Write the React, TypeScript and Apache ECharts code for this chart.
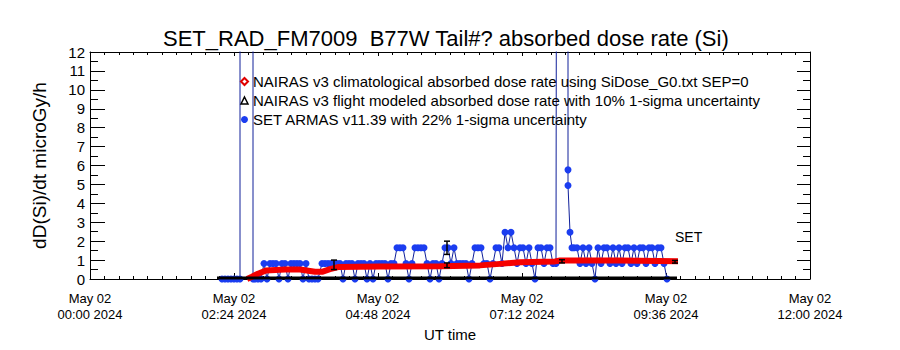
import React, { useEffect, useRef } from "react";
import * as echarts from "echarts";

const TITLE = "SET_RAD_FM7009  B77W Tail#? absorbed dose rate (Si)";
const Y_NAME = "dD(Si)/dt microGy/h";
const X_NAME = "UT time";
const RED_NAME = "NAIRAS v3 climatological absorbed dose rate using SiDose_G0.txt SEP=0";
const BLACK_NAME = "NAIRAS v3 flight modeled absorbed dose rate with 10% 1-sigma uncertainty";
const BLUE_NAME = "SET ARMAS v11.39 with 22% 1-sigma uncertainty";
const SET_LABEL = "SET";

// x axis in minutes after 2024-05-02 00:00 UT
const xTickMinutes = [0, 144, 288, 432, 576, 720];
const xTickLabels = [
  "May 02\n00:00 2024",
  "May 02\n02:24 2024",
  "May 02\n04:48 2024",
  "May 02\n07:12 2024",
  "May 02\n09:36 2024",
  "May 02\n12:00 2024",
];

// NAIRAS climatological (red) [minute, microGy/h]
const redData: [number, number][] = [
  [157, 0.0], [162, 0.12], [168, 0.28], [176, 0.45], [195, 0.5], [210, 0.5],
  [220, 0.42], [225, 0.38], [232, 0.38], [240, 0.52], [248, 0.63], [290, 0.66],
  [350, 0.68], [390, 0.72], [410, 0.8], [430, 0.88], [465, 0.93], [470, 0.98],
  [530, 0.98], [588, 0.94],
];

// NAIRAS flight modeled (black) [minute, microGy/h]
const blackData: [number, number][] = [
  [127, 0.05], [587, 0.05],
];

// error bars [minute, low, high]
const errorBars: [number, number, number][] = [
  [244, 0.5, 1.0],
  [357, 1.3, 2.0],
  [357, 0.6, 0.85],
  [472, 0.85, 1.02],
  [585, 0.84, 0.98],
];

// SET ARMAS (blue) [minute, microGy/h]; 40 = off scale
const blueData: [number, number][] = [
  [132, 0], [135, 0], [138, 0], [141, 0], [144, 0], [147, 0],
  [150, 0], [150, 40], [163, 40], [163, 0], [165, 0], [168, 0], [171, 0],
  [174, 0.82], [177, 0], [180, 0.82], [183, 0.82], [186, 0.82], [189, 0],
  [192, 0.82], [195, 0.82], [198, 0], [201, 0.82], [204, 0.82], [207, 0.82],
  [210, 0.82], [213, 0], [216, 0.82], [219, 0], [222, 0], [225, 0], [228, 0],
  [232, 0.82], [235, 0.82], [238, 0.82], [241, 0.82], [244, 0.82], [247, 0.82],
  [250, 0.82], [253, 0], [256, 0.82], [259, 0.82], [262, 0.82], [265, 0],
  [268, 0.82], [271, 0.82], [274, 0.82], [277, 0], [280, 0.82], [283, 0],
  [286, 0.82], [289, 0.82], [292, 0.82], [295, 0.82], [298, 0], [301, 0.82],
  [304, 0.82], [307, 1.65], [310, 1.65], [313, 1.65], [316, 0.82], [319, 0],
  [322, 0.82], [325, 1.65], [328, 1.65], [331, 1.65], [334, 1.65], [337, 0.82],
  [340, 0], [343, 0.82], [346, 0.82], [349, 0], [352, 0.82], [355, 1.65],
  [358, 1.65], [361, 0.82], [364, 1.65], [367, 0.82], [370, 0.82], [373, 0.82],
  [376, 0.82], [379, 0], [382, 0.82], [385, 1.65], [388, 1.65], [391, 1.65],
  [394, 0.82], [397, 0.82], [400, 0], [403, 0.82], [406, 1.65], [409, 1.65],
  [412, 0.82], [415, 2.47], [418, 1.65], [421, 2.47], [424, 1.65], [427, 0.82],
  [430, 1.65], [433, 1.65], [436, 0.82], [439, 1.65], [442, 0.82], [445, 0],
  [448, 1.65], [451, 1.65], [454, 0.82], [457, 1.65], [460, 1.65], [463, 0.82],
  [466, 0.82], [467, 40], [478, 40], [478, 5.77], [478, 4.94], [480, 2.47],
  [482, 1.65], [484, 1.65], [487, 1.65], [490, 0.82], [493, 1.65], [496, 0.82],
  [499, 1.65], [502, 0.82], [505, 0], [508, 1.65], [511, 0.82], [514, 1.65],
  [517, 1.65], [520, 0.82], [523, 1.65], [526, 0.82], [529, 1.65], [532, 0.82],
  [535, 1.65], [538, 1.65], [541, 0.82], [544, 1.65], [547, 0.82], [550, 1.65],
  [553, 1.65], [556, 0.82], [559, 1.65], [562, 1.65], [565, 0.82], [568, 1.65],
  [571, 1.65], [574, 0.82], [577, 0],
];

const FONT = "Liberation Sans";

export default function App() {
  const ref = useRef<HTMLDivElement>(null);
  useEffect(() => {
    if (!ref.current) return;
    const chart = echarts.init(ref.current, undefined, { renderer: "svg" });
    const axisLineStyle = { color: "#000", width: 1 };
    const xLabel = (v: number) => {
      const i = xTickMinutes.indexOf(Math.round(v));
      return i >= 0 ? xTickLabels[i] : "";
    };
    chart.setOption({
      animation: false,
      backgroundColor: "#fff",
      textStyle: { fontFamily: FONT },
      title: {
        text: TITLE,
        left: 158,
        top: 22,
        textStyle: { fontFamily: FONT, fontSize: 22, fontWeight: "normal", color: "#000" },
      },
      legend: {
        orient: "vertical",
        left: 235,
        top: 69,
        itemWidth: 7,
        itemHeight: 7,
        itemGap: 4,
        selectedMode: false,
        textStyle: { fontFamily: FONT, fontSize: 15, color: "#000" },
        data: [
          { name: RED_NAME, icon: "diamond", itemStyle: { color: "#fff", borderColor: "#e00000", borderWidth: 2 } },
          { name: BLACK_NAME, icon: "triangle", itemStyle: { color: "#fff", borderColor: "#000", borderWidth: 1.5 } },
          { name: BLUE_NAME, icon: "circle", itemStyle: { color: "#1b3df0" } },
        ],
      },
      grid: { left: 90, right: 90, top: 52, bottom: 71, containLabel: false },
      xAxis: [
        {
          type: "value",
          position: "bottom",
          min: 0,
          max: 720,
          interval: 144,
          axisLine: { show: true, onZero: false, lineStyle: axisLineStyle },
          axisTick: { show: true, inside: true, length: 6, lineStyle: axisLineStyle },
          minorTick: { show: true, splitNumber: 10, length: 3, lineStyle: axisLineStyle },
          splitLine: { show: false },
          axisLabel: { formatter: xLabel, fontFamily: FONT, fontSize: 13, lineHeight: 16, margin: 11, color: "#000" },
          name: X_NAME,
          nameLocation: "middle",
          nameGap: 47,
          nameTextStyle: { fontFamily: FONT, fontSize: 15, color: "#000" },
        },
        {
          type: "value",
          position: "top",
          min: 0,
          max: 720,
          interval: 144,
          axisLine: { show: true, onZero: false, lineStyle: axisLineStyle },
          axisTick: { show: true, inside: true, length: 4, lineStyle: axisLineStyle },
          minorTick: { show: true, splitNumber: 10, length: 3, lineStyle: axisLineStyle },
          splitLine: { show: false },
          axisLabel: { show: false },
        },
      ],
      yAxis: [
        {
          type: "value",
          position: "left",
          min: 0,
          max: 12,
          interval: 1,
          axisLine: { show: true, onZero: false, lineStyle: axisLineStyle },
          axisTick: { show: true, inside: true, length: 15, lineStyle: axisLineStyle },
          minorTick: { show: true, splitNumber: 2, length: 8, lineStyle: axisLineStyle },
          splitLine: { show: false },
          axisLabel: { fontFamily: FONT, fontSize: 15, margin: 5, color: "#000", showMinLabel: true, showMaxLabel: true },
          name: Y_NAME,
          nameLocation: "middle",
          nameGap: 41,
          nameTextStyle: { fontFamily: FONT, fontSize: 19, color: "#000" },
        },
        {
          type: "value",
          position: "right",
          min: 0,
          max: 12,
          interval: 1,
          axisLine: { show: true, onZero: false, lineStyle: axisLineStyle },
          axisTick: { show: true, inside: true, length: 13, lineStyle: axisLineStyle },
          minorTick: { show: true, splitNumber: 2, length: 7, lineStyle: axisLineStyle },
          splitLine: { show: false },
          axisLabel: { show: false },
        },
      ],
      graphic: [
        {
          type: "text",
          left: 675,
          top: 230,
          style: { text: SET_LABEL, fontFamily: FONT, fontSize: 14, fill: "#000" },
        },
      ],
      series: [
        {
          name: BLUE_NAME,
          type: "line",
          xAxisIndex: 0,
          yAxisIndex: 0,
          data: blueData,
          clip: true,
          symbol: "circle",
          symbolSize: 7,
          showSymbol: true,
          lineStyle: { color: "#10209a", width: 1 },
          itemStyle: { color: "#1b3df0" },
          z: 2,
        },
        {
          name: RED_NAME,
          type: "line",
          xAxisIndex: 0,
          yAxisIndex: 0,
          data: redData,
          clip: true,
          symbol: "none",
          lineStyle: { color: "#f50000", width: 6 },
          itemStyle: { color: "#f50000" },
          z: 3,
        },
        {
          name: BLACK_NAME,
          type: "line",
          xAxisIndex: 0,
          yAxisIndex: 0,
          data: blackData,
          clip: true,
          symbol: "none",
          lineStyle: { color: "#000", width: 3 },
          itemStyle: { color: "#000" },
          z: 4,
        },
        {
          name: "error bars",
          type: "custom",
          xAxisIndex: 0,
          yAxisIndex: 0,
          data: errorBars,
          clip: true,
          z: 5,
          encode: { x: 0, y: [1, 2] },
          renderItem: (params: any, api: any) => {
            const lo = api.coord([api.value(0), api.value(1)]);
            const hi = api.coord([api.value(0), api.value(2)]);
            const st = { stroke: "#000", lineWidth: 1.5 };
            return {
              type: "group",
              children: [
                { type: "line", shape: { x1: lo[0], y1: lo[1], x2: hi[0], y2: hi[1] }, style: st },
                { type: "line", shape: { x1: lo[0] - 3, y1: lo[1], x2: lo[0] + 3, y2: lo[1] }, style: st },
                { type: "line", shape: { x1: hi[0] - 3, y1: hi[1], x2: hi[0] + 3, y2: hi[1] }, style: st },
              ],
            };
          },
        },
      ],
    });
    return () => chart.dispose();
  }, []);
  return (
    <div
      ref={ref}
      style={{ position: "fixed", left: 0, top: 0, width: 900, height: 350, background: "#fff" }}
    />
  );
}
